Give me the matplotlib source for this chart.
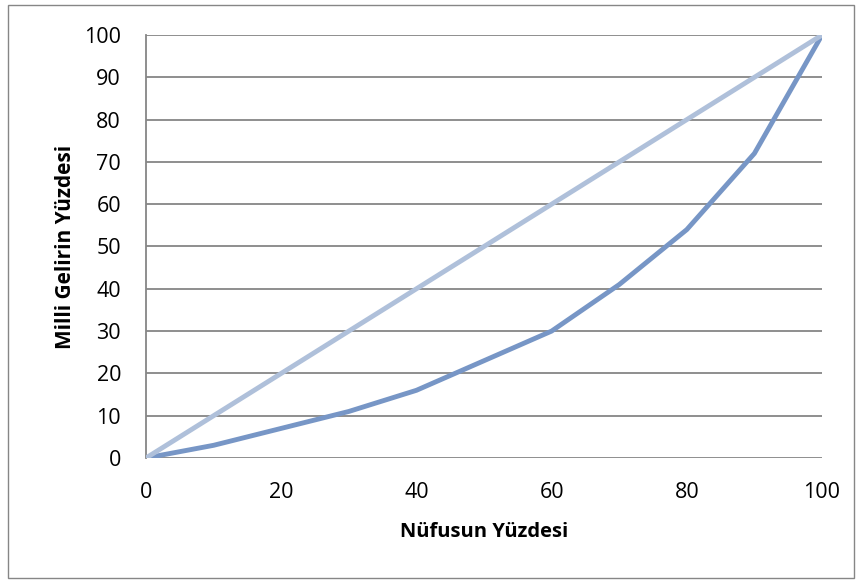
import matplotlib.pyplot as plt
from matplotlib.patches import Rectangle

# veriler
nufus = [0, 10, 20, 30, 40, 50, 60, 70, 80, 90, 100]
lorenz = [0, 3, 7, 11, 16, 23, 30, 41, 54, 72, 100]
esitlik = [0, 100]
esitlik_x = [0, 100]
y_ticks = [0, 10, 20, 30, 40, 50, 60, 70, 80, 90, 100]
x_ticks = [0, 20, 40, 60, 80, 100]

plt.rcParams["font.family"] = ["Open Sans", "DejaVu Sans"]

fig = plt.figure(figsize=(8.62, 5.83), dpi=100)
ax = fig.add_axes([146 / 862, 1 - 458 / 583, 676 / 862, 423 / 583])

# dış çerçeve
fig.patches.append(Rectangle((8 / 862, 1 - 578 / 583), 846 / 862, 573 / 583,
                             transform=fig.transFigure, fill=False,
                             edgecolor="#868686", linewidth=1))

for y in y_ticks:
    ax.axhline(y, color="#868686", linewidth=1.3, zorder=1)

ax.plot(nufus, lorenz, color="#7796C6", linewidth=3.5, zorder=3,
        solid_joinstyle="round")
ax.plot(esitlik_x, esitlik, color="#AFC0DA", linewidth=3.5, zorder=3)

ax.set_xlim(0, 100)
ax.set_ylim(0, 100)
ax.set_xticks(x_ticks)
ax.set_yticks(y_ticks)
ax.tick_params(length=0, labelsize=15.5)
ax.tick_params(axis="y", pad=18)
ax.tick_params(axis="x", pad=17)

for s in ["top", "right", "bottom"]:
    ax.spines[s].set_visible(False)
ax.spines["left"].set_color("#868686")
ax.spines["left"].set_linewidth(1.3)

ax.set_xlabel("Nüfusun Yüzdesi", fontsize=14.5, fontweight="bold", labelpad=14)
ax.set_ylabel("Milli Gelirin Yüzdesi", fontsize=15, fontweight="bold", labelpad=6)

fig.savefig("out.png", dpi=100)
